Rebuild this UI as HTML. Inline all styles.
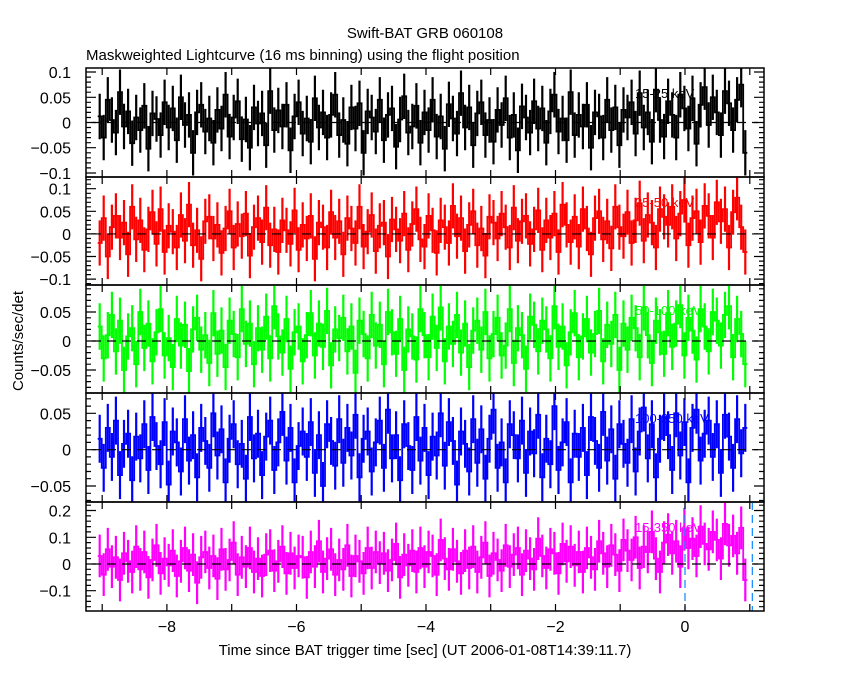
<!DOCTYPE html>
<html><head><meta charset="utf-8"><style>
body{margin:0;background:#fff}
svg{display:block}
text{font-family:"Liberation Sans",sans-serif;font-size:15px;fill:#000}
</style></head><body>
<svg id="chart" width="850" height="680" xmlns="http://www.w3.org/2000/svg">
<text x="425" y="38" text-anchor="middle">Swift-BAT GRB 060108</text>
<text x="86" y="60">Maskweighted Lightcurve (16 ms binning) using the flight position</text>
<text x="425" y="655" text-anchor="middle">Time since BAT trigger time [sec] (UT 2006-01-08T14:39:11.7)</text>
<text x="0" y="0" transform="translate(23,341) rotate(-90)" text-anchor="middle">Counts/sec/det</text>
<g id="plots"></g>
</svg>
<script>
// data in milli-counts/sec/det
const tStart = -9.07, binSize = 0.0627;
const xTicks = [-8, -6, -4, -2, 0];
const band15_25 = [12,-30,45,5,-20,60,-8,22,-41,10,-15,33,-52,18,7,-25,40,-10,28,-35,50,-5,15,-60,20,35,-18,8,-40,25,-12,55,-28,10,42,-33,6,-50,30,-2,18,-45,62,-15,24,-8,35,-55,12,40,-22,8,-38,48,-10,20,-30,15,55,-25,5,-42,30,-12,38,-60,22,10,-18,45,-35,15,28,-48,6,52,-20,-8,33,-40,20,-15,45,-28,12,-52,36,8,-22,58,-10,30,-45,18,40,-25,5,-38,25,-5,48,-30,15,-55,32,10,-20,42,-12,28,-40,22,55,-18,8,-35,60,-25,15,-8,35,-50,20,12,-30,45,-15,30,-45,25,10,40,-22,58,-10,20,-38,65,5,-28,42,15,-30,55,28,-12,48,-42,35,70,-5,50,20,-25,62,38,-15,45,75,-60];
const band25_50 = [-20,35,-50,15,40,-8,25,-45,60,-12,30,-35,10,48,-22,55,-40,18,5,-30,42,-15,65,-25,8,-55,28,38,-10,20,-42,12,50,-30,22,-5,45,-48,15,35,-18,58,-25,10,-40,30,8,-22,52,-35,20,-10,40,-55,25,15,-30,48,-8,28,-45,35,12,-20,60,-28,5,42,-38,18,25,-50,32,10,-15,45,-35,22,55,-12,-28,40,8,-42,30,15,-20,62,-5,35,-38,20,50,-25,12,-48,38,25,-10,45,15,-30,58,-15,28,40,-22,10,52,-35,30,-8,45,-40,65,20,-18,38,-28,55,12,-45,35,50,-12,28,-32,60,15,-5,48,-20,30,68,-15,42,25,-30,55,38,20,60,-10,45,75,-25,35,50,-18,62,40,-8,70,28,55,-30,48,80,15,-40];
const band50_100 = [25,-30,10,45,-18,35,-50,8,22,-40,50,-12,30,-35,15,55,-25,5,-45,38,-8,28,-52,20,40,-15,10,-38,48,-22,18,-45,35,12,-28,55,-5,30,-40,22,-15,42,-30,60,8,-20,38,-48,15,25,-35,10,48,-25,30,-10,52,-42,20,5,40,-18,25,-55,35,12,-30,45,-8,28,-40,50,15,-22,38,-50,20,8,-32,55,10,-28,42,-12,58,-35,25,-5,45,-20,30,-45,18,35,-15,50,-30,12,40,-25,-8,55,-38,22,10,-48,42,28,-18,35,20,-30,60,-10,25,-42,15,48,-28,8,38,-20,12,52,-35,28,-5,45,-50,30,-15,40,22,-28,58,10,-38,35,15,-22,48,-10,30,62,-25,40,18,-32,55,25,-18,50,35,-8,45,60,-28,38,12,-40];
const band100_350 = [15,-25,30,-10,40,-35,8,22,-42,18,-12,35,-28,45,5,-20,38,-48,25,10,-30,42,-15,20,-38,30,12,-25,50,-8,28,-45,15,35,-20,8,-40,45,-12,22,-35,18,40,-28,10,52,-15,30,-45,5,25,-10,38,-32,20,-50,35,12,-22,42,-18,30,-8,48,-38,15,25,-30,10,40,-25,55,-12,20,-42,35,5,-28,45,-15,30,-35,18,-8,50,-22,38,12,-48,25,8,-30,42,-18,28,-40,15,55,-25,10,-45,35,20,-12,40,-32,25,-5,48,-38,15,-20,60,-28,10,38,-45,22,-10,30,-35,45,12,-25,52,-15,28,-40,35,8,-18,42,-30,25,58,-12,35,-38,15,45,20,-28,50,-8,38,-45,30,55,-15,22,40,-10,35,-32,48,18,-25,42,-5,30];
const band15_350 = [30,-40,55,-10,25,-60,40,10,-30,65,-20,45,-50,15,70,-35,20,-5,50,-45,10,60,-25,35,-70,25,45,-15,30,-55,55,-20,15,80,-40,25,-10,60,-30,20,-45,35,50,-25,10,65,-35,40,-15,30,25,-50,45,-10,85,-30,20,55,-40,15,-20,70,-45,30,10,-35,60,-15,45,5,40,-25,15,75,-50,35,-5,50,-30,60,-10,45,30,-40,90,20,-20,55,10,-35,50,-15,65,-30,25,80,-45,40,15,-25,70,-10,35,60,-40,50,20,-20,95,30,-15,55,40,-35,75,10,65,-5,45,-30,60,25,-20,85,40,-10,70,35,-25,90,50,15,100,-15,65,45,120,20,-30,80,110,40,85,-10,130,60,95,30,140,75,55,120,90,20,150,70,105,40,135,-60];
const bandErrors = [45, 50, 40, 33, 80];
const bandLabels = ["15-25 keV","25-50 keV","50-100 keV","100-350 keV","15-350 keV"];
const yTicks1 = [-0.1,-0.05,0,0.05,0.1];
const yTicks2 = [-0.1,-0.05,0,0.05,0.1];
const yTicks3 = [-0.05,0,0.05];
const yTicks4 = [-0.05,0,0.05];
const yTicks5 = [-0.1,0,0.1,0.2];
const markerTimes = [0, 1.04];

const NS="http://www.w3.org/2000/svg";
const L=86,R=764, X0=-9.25, X1=1.22;
const sx=t=>L+(t-X0)/(X1-X0)*(R-L);
const panels=[
 {top:68,bot:177,lo:-0.108,hi:0.108,data:band15_25,col:"#000",ticks:yTicks1,minor:0.01,name:"panel-15-25kev"},
 {top:177,bot:285,lo:-0.113,hi:0.126,data:band25_50,col:"#f00",ticks:yTicks2,minor:0.01,name:"panel-25-50kev"},
 {top:285,bot:393,lo:-0.0897,hi:0.0966,data:band50_100,col:"#0f0",ticks:yTicks3,minor:0.01,name:"panel-50-100kev"},
 {top:393,bot:502,lo:-0.072,hi:0.078,data:band100_350,col:"#00f",ticks:yTicks4,minor:0.01,name:"panel-100-350kev"},
 {top:502,bot:611,lo:-0.176,hi:0.232,data:band15_350,col:"#f0f",ticks:yTicks5,minor:0.02,name:"panel-15-350kev"}];
const root=document.getElementById('plots');
function mk(tag,attrs,parent){const e=document.createElementNS(NS,tag);for(const k in attrs)e.setAttribute(k,attrs[k]);parent.appendChild(e);return e;}
const fmt=v=>v<0?"\u2212"+String(-v):String(v);
panels.forEach((p,i)=>{
 const g=mk('g',{},root);
 
 
 const sy=v=>p.bot-(v-p.lo)/(p.hi-p.lo)*(p.bot-p.top);
 const lab=mk('text',{x:635,y:sy(p.hi)+30,style:"fill:"+p.col+";font-size:13px"},g);
 lab.textContent=bandLabels[i];
 
 
 let d="",e="";
 p.data.forEach((m,j)=>{const v=m/1000, t0=tStart+j*binSize, t1=t0+binSize;
  const y=sy(v).toFixed(1);
  d+=(j?"L":"M")+sx(t0).toFixed(1)+","+y+"L"+sx(t1).toFixed(1)+","+y;
  const xm=sx(t0+binSize/2).toFixed(1), er=bandErrors[i]/1000;
  e+="M"+xm+","+Math.min(p.bot,sy(v-er)).toFixed(1)+"V"+Math.max(p.top,sy(v+er)).toFixed(1);});
 const eb=mk('path',{d:e,stroke:p.col,"stroke-width":2.2,fill:"none"},g);
 
 
 const ln=mk('path',{d:d,stroke:p.col,"stroke-width":1.8,fill:"none"},g);
 
 
 const z=mk('line',{x1:L+6,x2:R-6,y1:sy(0),y2:sy(0),stroke:"#000","stroke-width":1.2,"stroke-dasharray":"9,6"},g);
 
 
 if(i===4){markerTimes.forEach(t=>{const m=mk('line',{x1:sx(t),x2:sx(t),y1:p.top,y2:p.bot,stroke:"#1e90ff","stroke-width":1.3,"stroke-dasharray":"8,5"},g);
  
  });}
 let tk="";
 for(let v=Math.ceil(p.lo/p.minor)*p.minor;v<=p.hi+1e-9;v+=p.minor){const y=sy(v).toFixed(1);tk+="M"+L+","+y+"h5M"+R+","+y+"h-5";}
 p.ticks.forEach(v=>{const y=sy(v).toFixed(1);tk+="M"+L+","+y+"h10M"+R+","+y+"h-10";
  const tl=mk('text',{x:L-15,y:sy(v)+6,"text-anchor":"end",style:"font-size:16px"},g);tl.textContent=fmt(v);
  
  });
 for(let t=-9;t<=1;t++){const x=sx(t).toFixed(1);tk+="M"+x+","+p.top+"v7M"+x+","+p.bot+"v-7";}
 const tp=mk('path',{d:tk,stroke:"#000","stroke-width":1.2,fill:"none"},g);
 
 
 const fr=mk('rect',{x:L,y:p.top,width:R-L,height:p.bot-p.top,fill:"none",stroke:"#000","stroke-width":1.5},g);
 
 
});
xTicks.forEach(t=>{const tl=mk('text',{x:sx(t),y:632,"text-anchor":"middle",style:"font-size:16px"},root);tl.textContent=fmt(t);
 
 });
</script>
</body></html>
